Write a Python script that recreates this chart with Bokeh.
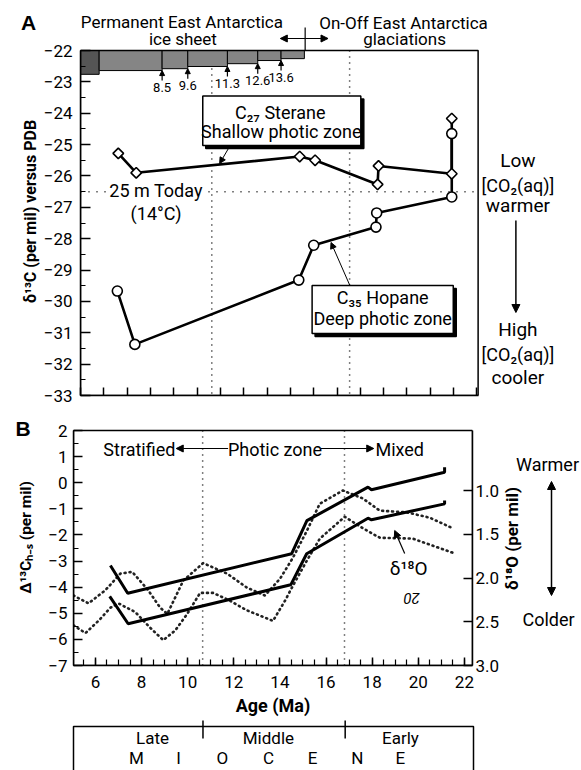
import math
from bokeh.plotting import figure
from bokeh.models import (Range1d, LinearAxis, SingleIntervalTicker, FixedTicker,
                          PrintfTickFormatter, Label, Arrow, NormalHead,
                          BoxAnnotation)
from bokeh.layouts import column, row
from bokeh.embed import file_html
from bokeh.resources import INLINE

FONT = "Roboto"

# ---------------- data: panel A ----------------
sterane_age = [6.62, 7.39, 14.40, 15.06, 17.74, 17.78, 20.92, 20.92]
sterane_d13c = [-25.28, -25.90, -25.38, -25.50, -26.27, -25.68, -25.93, -24.17]
hopane_age = [6.58, 7.33, 14.36, 15.00, 17.67, 17.70, 20.92, 20.92]
hopane_d13c = [-29.67, -31.37, -29.32, -28.21, -27.63, -27.18, -26.67, -24.65]
ice_edges = [5.0, 5.8, 8.5, 9.6, 11.3, 12.6, 13.6, 14.6]
ice_depth = [-22.76, -22.64, -22.58, -22.51, -22.42, -22.32, -22.26]
ice_labels = ["8.5", "9.6", "11.3", "12.6", "13.6"]
today_d13c = -26.5
a_zone_bounds = [10.63, 16.54]

# ---------------- data: panel B ----------------
dc_upper_age = [6.65, 7.40, 14.51, 15.17, 17.82, 17.97, 21.14, 21.14]
dc_upper = [-3.17, -4.23, -2.72, -1.45, -0.17, -0.27, 0.40, 0.59]
dc_lower_age = [6.62, 7.42, 14.47, 15.16, 17.82, 17.97, 21.14, 21.14]
dc_lower = [-4.35, -5.40, -3.91, -2.72, -1.36, -1.42, -0.81, -0.68]
o18_upper_age = [5.05, 5.70, 6.43, 7.08, 7.60, 8.29, 8.81, 9.12, 9.81, 10.67, 11.71,
                 12.57, 13.35, 14.00, 14.56, 15.17, 15.73, 16.73, 17.59, 18.33,
                 19.50, 20.49, 21.48]
o18_upper = [2.20, 2.29, 2.14, 1.95, 1.93, 2.14, 2.34, 2.41, 2.03, 1.83, 1.95,
             2.11, 2.20, 2.01, 1.77, 1.46, 1.15, 1.00, 1.09, 1.23,
             1.25, 1.31, 1.43]
o18_lower_age = [5.05, 5.57, 6.13, 6.65, 7.00, 7.73, 8.38, 8.94, 9.46, 9.98, 10.54,
                 11.10, 11.84, 12.57, 13.70, 14.22, 14.56, 15.17, 15.73, 16.81,
                 17.59, 18.33, 19.76, 21.48]
o18_lower = [2.54, 2.63, 2.49, 2.34, 2.29, 2.39, 2.57, 2.71, 2.60, 2.41, 2.17,
             2.17, 2.26, 2.37, 2.49, 2.26, 2.09, 1.80, 1.55, 1.30,
             1.43, 1.54, 1.55, 1.71]
b_zone_bounds = [10.65, 16.80]
d18o_ticks = [1.0, 1.5, 2.0, 2.5, 3.0]

# ---------------- data: epoch box ----------------
epochs = ["Late", "Middle", "Early"]
epoch_label_age = [8.47, 13.48, 19.19]
miocene_letters = ["M", "I", "O", "C", "E", "N", "E"]
miocene_letter_age = [7.77, 9.59, 11.49, 13.48, 15.39, 17.33, 19.19]

# ---------------- geometry (canvas pixels) ----------------
A_XR, A_YR = (5.0, 22.05), (-33.0, -22.0)                      # box 77..477 x 50..395
B_XR, B_YR, B_Y2R = (5.05, 22.35), (-7.0, 2.0), (3.0, 0.314)   # box 73..473 x 430..665


def a_x(px):
    return A_XR[0] + (px - 77) * (A_XR[1] - A_XR[0]) / 400.0


def a_y(py):
    return A_YR[1] - (py - 50) * (A_YR[1] - A_YR[0]) / 345.0


def b_x(px):
    return B_XR[0] + (px - 73) * (B_XR[1] - B_XR[0]) / 400.0


def b_y(py):
    return B_YR[1] - (py - 430) * (B_YR[1] - B_YR[0]) / 235.0


def b_y2(py):
    return 1.0 + (py - 490) / 87.5


def lab(p, x, y, text, size=18, align="center", baseline="middle",
        style="normal", angle=0.0, font=FONT, bg=None):
    kw = dict(x=x, y=y, text=text, text_font=font, text_font_size=f"{size}px",
              text_align=align, text_baseline=baseline, text_font_style=style,
              angle=angle, text_color="black")
    if bg is not None:
        kw["background_fill_color"] = bg
    p.add_layout(Label(**kw))


def arrow(p, x0, y0, x1, y1, width=1.2, head=7, both=False):
    def h():
        return NormalHead(size=head, fill_color="black", line_color="black", line_width=1)
    p.add_layout(Arrow(x_start=x0, y_start=y0, x_end=x1, y_end=y1,
                       line_width=width, line_color="black",
                       end=h() if head else None, start=h() if both else None))


def box(p, l, r, t, b, fill="white", line="black", lw=1.5):
    p.add_layout(BoxAnnotation(left=l, right=r, top=t, bottom=b,
                               fill_color=fill, fill_alpha=1.0 if fill else 0.0,
                               line_color=line, line_alpha=1.0, line_width=lw))


def style_axis(a, size="17px"):
    a.axis_line_color = "black"
    a.axis_line_width = 1.5
    a.major_tick_line_color = "black"
    a.minor_tick_line_color = "black"
    a.major_tick_line_width = 1.5
    a.minor_tick_line_width = 1.2
    a.major_tick_out = 0
    a.minor_tick_out = 0
    a.major_label_text_font = FONT
    a.major_label_text_font_size = size
    a.major_label_text_color = "black"
    a.axis_label_text_font = FONT
    a.axis_label_text_font_style = "bold"
    a.axis_label_text_font_size = "17px"
    a.axis_label_text_color = "black"


def page_fig(x0, x1, y0, y1, bt=0, bb=0, x_range=None):
    """A plain drawing strip whose data coordinates are canvas pixels."""
    p = figure(width=x1 - x0, height=y1 - y0,
               x_range=x_range if x_range is not None else Range1d(x0, x1),
               y_range=Range1d(y1 - bb, y0 + bt), output_backend="svg",
               toolbar_location=None, x_axis_location=None, y_axis_location=None,
               min_border_left=0, min_border_right=0,
               min_border_top=bt, min_border_bottom=bb)
    p.grid.visible = False
    p.outline_line_color = None
    return p


# ================= row A: strip (x 0..40) + panel A (x 40..581), y 0..405 =================
psa = page_fig(0, 40, 0, 405, bt=0, bb=10)
lab(psa, 28, 22, "A", size=21, style="bold", font="Liberation Sans")
lab(psa, 30, 211, "δ¹³C (per mil) versus PDB", size=16, style="bold",
    angle=math.pi / 2)

pa = figure(width=541, height=405, x_range=Range1d(A_XR[0], a_x(581)),
            y_range=Range1d(A_YR[0], a_y(0)),
            output_backend="svg", toolbar_location=None,
            min_border_left=77 - 40, min_border_right=0, min_border_top=0,
            min_border_bottom=10)
pa.grid.visible = False
pa.outline_line_color = None

ya = pa.yaxis[0]
style_axis(ya)
ya.bounds = A_YR
ya.ticker = SingleIntervalTicker(interval=1, num_minor_ticks=2)
ya.major_tick_in = 10
ya.minor_tick_in = 5
ya.major_label_standoff = 8

xa = pa.xaxis[0]
style_axis(xa)
xa.bounds = A_XR
xa.ticker = SingleIntervalTicker(interval=1, num_minor_ticks=0)
xa.major_tick_in = 8
xa.major_label_text_font_size = "1px"
xa.major_label_text_color = None
xa.major_label_standoff = 0

box(pa, A_XR[0], A_XR[1], A_YR[1], A_YR[0], fill=None)

pa.segment(x0=a_zone_bounds, y0=[A_YR[1]] * 2, x1=a_zone_bounds, y1=[A_YR[0]] * 2,
           line_color="black", line_dash="1 5", line_width=1.5)
pa.segment(x0=[A_XR[0]], y0=[today_d13c], x1=[A_XR[1]], y1=[today_d13c],
           line_color="black", line_dash="1 7", line_width=1.5)

ice_colors = ["#555555"] + ["#858585"] * (len(ice_depth) - 1)
pa.quad(left=ice_edges[:-1], right=ice_edges[1:], top=[A_YR[1]] * len(ice_depth),
        bottom=ice_depth, fill_color=ice_colors, line_color="black", line_width=1)

pa.line(sterane_age, sterane_d13c, line_width=2.6, line_color="black")
pa.line(hopane_age, hopane_d13c, line_width=2.6, line_color="black")
pa.scatter(sterane_age, sterane_d13c, marker="square", angle=math.pi / 4, size=7.5,
           fill_color="white", line_color="black", line_width=1.6)
pa.scatter(hopane_age, hopane_d13c, marker="circle", size=10,
           fill_color="white", line_color="black", line_width=1.6)

dpy = (A_YR[1] - A_YR[0]) / 345.0
for i, t in enumerate(ice_labels):
    edge = ice_edges[i + 2]
    tip = ice_depth[i + 1]
    arrow(pa, edge, tip - 10 * dpy, edge, tip, width=1.2, head=5)
    lab(pa, edge, tip - 17 * dpy, t, size=13)

# header
lab(pa, a_x(179), a_y(21.5), "Permanent East Antarctica", size=17)
lab(pa, a_x(180), a_y(38), "ice sheet", size=17)
lab(pa, a_x(402), a_y(22), "On-Off East Antarctica", size=17)
lab(pa, a_x(403), a_y(38), "glaciations", size=17)
arrow(pa, a_x(303), a_y(38), a_x(278), a_y(38), width=1.2, head=7)
arrow(pa, a_x(303), a_y(38), a_x(326), a_y(38), width=1.2, head=7)
arrow(pa, a_x(303), a_y(27), a_x(303), a_y(50), width=1.2, head=0)

# label boxes with drop shadow
box(pa, a_x(203), a_x(362), a_y(98.5), a_y(148), fill="black")
box(pa, a_x(200), a_x(359), a_y(95.5), a_y(145), fill="white")
lab(pa, a_x(278), a_y(111.5), "C₂₇ Sterane", size=18)
lab(pa, a_x(279), a_y(131), "Shallow photic zone", size=18)
arrow(pa, a_x(227), a_y(146), a_x(217), a_y(163), width=1.0, head=6)

box(pa, a_x(313), a_x(455), a_y(288), a_y(336), fill="black")
box(pa, a_x(310), a_x(452), a_y(285), a_y(333), fill="white")
lab(pa, a_x(381), a_y(297), "C₃₅ Hopane", size=18)
lab(pa, a_x(381), a_y(318), "Deep photic zone", size=18)
arrow(pa, a_x(348), a_y(285), a_x(329), a_y(242), width=1.0, head=6)

lab(pa, a_x(153), a_y(190), "25 m Today", size=18, bg="white")
lab(pa, a_x(153), a_y(213), "(14°C)", size=18)

# notes to the right of panel A
lab(pa, a_x(517), a_y(160), "Low", size=19)
lab(pa, a_x(517), a_y(185), "[CO₂(aq)]", size=18)
lab(pa, a_x(517), a_y(205), "warmer", size=19)
arrow(pa, a_x(515), a_y(220), a_x(515), a_y(312), width=1.5, head=8)
lab(pa, a_x(517), a_y(329), "High", size=19)
lab(pa, a_x(517), a_y(354), "[CO₂(aq)]", size=18)
lab(pa, a_x(517), a_y(377), "cooler", size=19)

# ================= row B: strip + panel B + notes, y 405..720 (frames 410..665) ========
psb = page_fig(0, 40, 405, 720, bt=5, bb=55)
lab(psb, 22.5, 427.5, "B", size=21, style="bold", font="Liberation Sans")
lab(psb, 25, 537, "Δ¹³Cₕ₋ₛ (per mil)", size=15.5, style="bold", angle=math.pi / 2)

pb = figure(width=462, height=315, x_range=Range1d(*B_XR),
            y_range=Range1d(B_YR[0], b_y(410)),
            output_backend="svg", toolbar_location=None,
            min_border_left=73 - 40, min_border_right=502 - 473,
            min_border_top=5, min_border_bottom=55)
pb.grid.visible = False
pb.outline_line_color = None
pb.extra_y_ranges = {"d18o": Range1d(start=B_Y2R[0], end=b_y2(410))}

yb = pb.yaxis[0]
style_axis(yb)
yb.bounds = B_YR
yb.ticker = SingleIntervalTicker(interval=1, num_minor_ticks=2)
yb.major_tick_in = 9
yb.minor_tick_in = 5
yb.major_label_standoff = 6

xb_ax = pb.xaxis[0]
style_axis(xb_ax)
xb_ax.ticker = SingleIntervalTicker(interval=2, num_minor_ticks=4)
xb_ax.major_tick_in = 8
xb_ax.minor_tick_in = 6
xb_ax.major_label_standoff = 10
xb_ax.axis_label = "Age (Ma)"
xb_ax.axis_label_text_font_size = "18px"
xb_ax.axis_label_standoff = 4

y2 = LinearAxis(y_range_name="d18o", ticker=FixedTicker(ticks=d18o_ticks),
                formatter=PrintfTickFormatter(format="%.1f"), bounds=B_Y2R)
style_axis(y2)
y2.major_tick_in = 9
y2.minor_tick_in = 0
y2.major_label_standoff = 3
pb.add_layout(y2, "right")

box(pb, B_XR[0], B_XR[1], B_YR[1], B_YR[0], fill=None)

pb.segment(x0=b_zone_bounds, y0=[B_YR[1]] * 2, x1=b_zone_bounds, y1=[B_YR[0]] * 2,
           line_color="black", line_dash="1 5", line_width=1.5)

pb.line(o18_upper_age, o18_upper, y_range_name="d18o", line_color="#222222",
        line_width=2.6, line_dash="1 4", line_cap="round")
pb.line(o18_lower_age, o18_lower, y_range_name="d18o", line_color="#222222",
        line_width=2.6, line_dash="1 4", line_cap="round")
pb.line(dc_upper_age, dc_upper, line_width=3, line_color="black")
pb.line(dc_lower_age, dc_lower, line_width=3, line_color="black")

lab(pb, b_x(139), b_y(448.5), "Stratified", size=18)
lab(pb, b_x(275), b_y(448.5), "Photic zone", size=18)
lab(pb, b_x(400), b_y(448.5), "Mixed", size=18)
arrow(pb, b_x(228), b_y(448), b_x(176), b_y(448), width=1.2, head=7)
arrow(pb, b_x(321), b_y(448), b_x(374), b_y(448), width=1.2, head=7)
lab(pb, b_x(409), b_y(568), "δ¹⁸O", size=19)
arrow(pb, b_x(405), b_y(553), b_x(395), b_y(530), width=1.2, head=7)
lab(pb, b_x(412), b_y(598), "20", size=15, style="italic", angle=math.pi)

pnb = page_fig(502, 581, 405, 720, bt=5, bb=55)
lab(pnb, 511, 538, "δ¹⁸O (per mil)", size=17, style="bold", angle=math.pi / 2)
lab(pnb, 547, 463.5, "Warmer", size=18)
lab(pnb, 548, 618.5, "Colder", size=18)
arrow(pnb, 551, 595, 551, 481, width=1.5, head=8, both=True)

# ================= epoch box (y 720..770) =================
pe = page_fig(0, 581, 720, 770, x_range=Range1d(b_x(0), b_x(581)))
box(pe, B_XR[0], B_XR[1], 726, 800, fill=None)
pe.segment(x0=b_zone_bounds, y0=[717] * 2, x1=b_zone_bounds, y1=[738] * 2,
           line_color="black", line_width=1.5)
for name, xe in zip(epochs, epoch_label_age):
    lab(pe, xe, 737, name, size=17)
for ch, xe in zip(miocene_letters, miocene_letter_age):
    lab(pe, xe, 757, ch, size=17)

layout = column(row(psa, pa), row(psb, pb, pnb), pe)
open("out.html", "w").write(file_html(layout, INLINE))
